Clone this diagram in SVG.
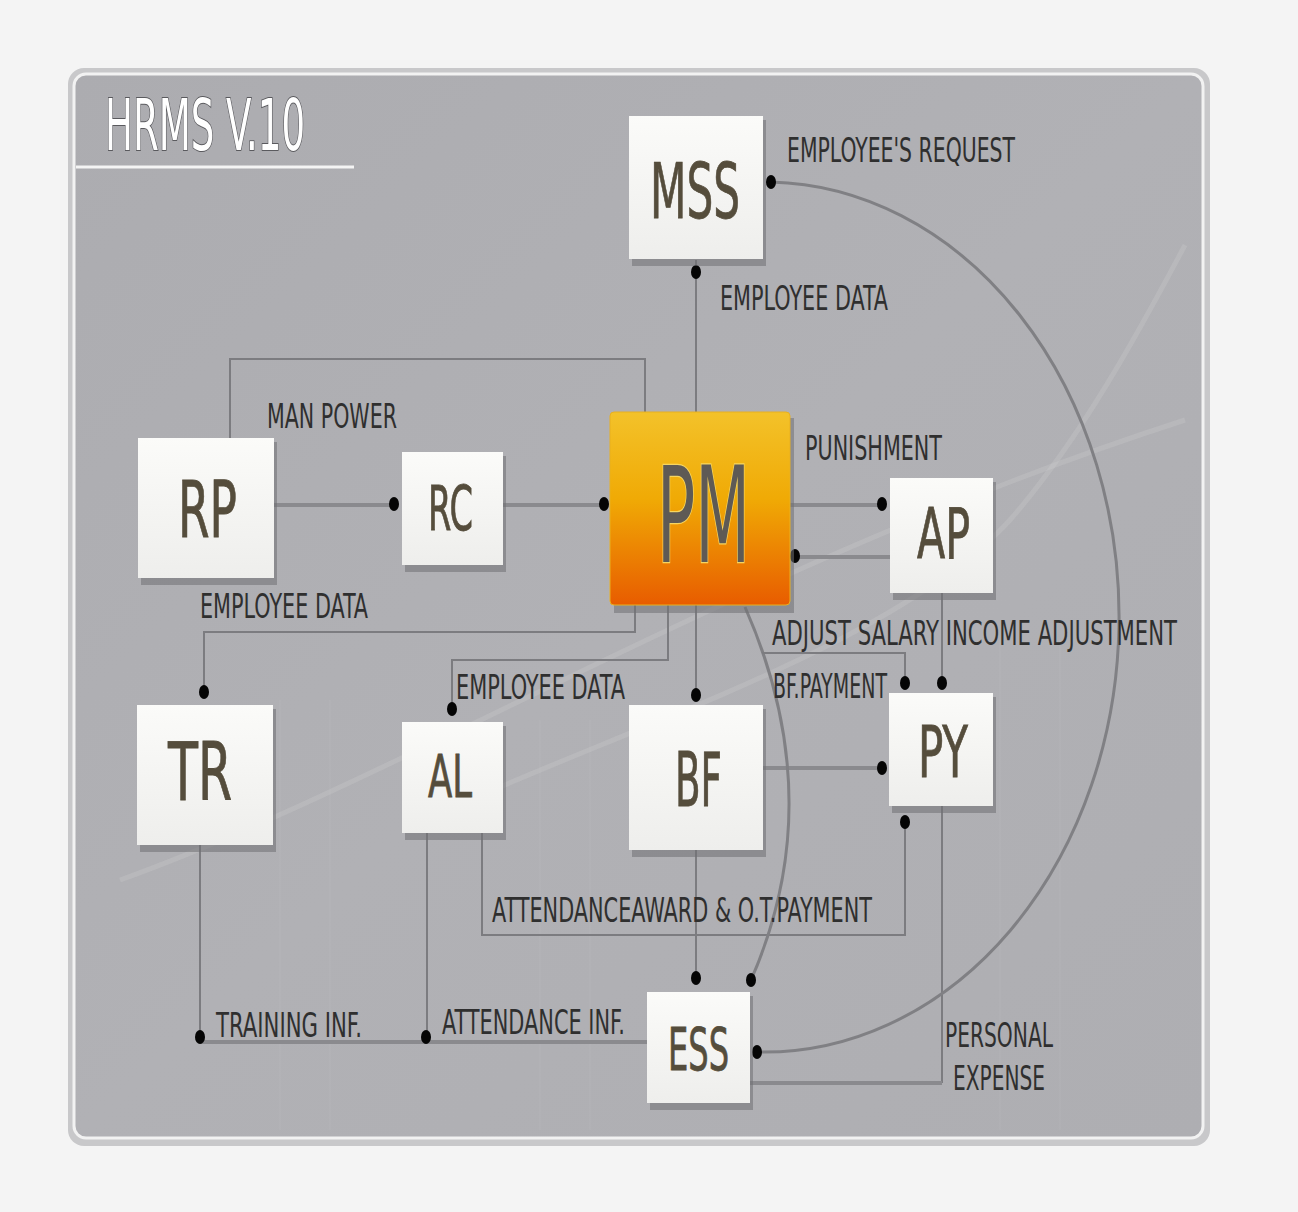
<svg xmlns="http://www.w3.org/2000/svg" width="1298" height="1212" viewBox="0 0 1298 1212">
<defs>
<style>
.node{fill:url(#boxg);}
.shadow{fill:#6f6f73;opacity:0.55;}
.nl{font-family:"DejaVu Sans Condensed","DejaVu Sans",sans-serif;fill:#554d3c;stroke:#554d3c;stroke-width:0.8;}
.lb{font-family:"DejaVu Sans Condensed","DejaVu Sans",sans-serif;fill:#2f2f2f;font-size:33px;}
.thick{fill:none;stroke:#8a8a8e;stroke-width:4;}
.thin{fill:none;stroke:#7c7c80;stroke-width:2;}
.arc{fill:none;stroke:#808084;stroke-width:3;}
.dot{fill:#050505;}
.deco{fill:none;stroke:#d4d4d8;stroke-width:5;opacity:0.22;}
.grid{stroke:#bcbcc0;stroke-width:1;opacity:0.4;}
</style>
<linearGradient id="boxg" x1="0" y1="0" x2="0" y2="1">
<stop offset="0" stop-color="#fbfbf9"/>
<stop offset="1" stop-color="#eeeeec"/>
</linearGradient>
<linearGradient id="pmg" x1="0" y1="0" x2="0" y2="1">
<stop offset="0" stop-color="#f3c22a"/>
<stop offset="0.45" stop-color="#f0aa05"/>
<stop offset="1" stop-color="#e85c00"/>
</linearGradient>
<linearGradient id="panelg" x1="0" y1="0" x2="1" y2="1">
<stop offset="0" stop-color="#acacb0"/>
<stop offset="0.5" stop-color="#b1b1b5"/>
<stop offset="1" stop-color="#aeaeb2"/>
</linearGradient>
</defs>
<rect x="0" y="0" width="1298" height="1212" fill="#f4f4f4"/>
<g id="panel">
<rect x="68" y="68" width="1142" height="1078" rx="16" fill="#c8c8ca"/>
<rect x="74" y="74" width="1129" height="1064" rx="12" fill="url(#panelg)" stroke="#f2f2f2" stroke-width="3"/>
<line class="grid" x1="280" y1="700" x2="280" y2="1130"/>
<line class="grid" x1="330" y1="700" x2="330" y2="1130"/>
<line class="grid" x1="540" y1="720" x2="540" y2="1130"/>
<line class="grid" x1="590" y1="720" x2="590" y2="1130"/>
<line class="grid" x1="1000" y1="640" x2="1000" y2="1130"/>
<line class="grid" x1="1060" y1="640" x2="1060" y2="1130"/>
<path class="deco" d="M470,800 C650,720 900,640 1010,520 C1080,440 1140,330 1185,245"/>
<path class="deco" d="M120,880 C400,780 750,560 1185,420"/>
<text x="105" y="150" font-family="DejaVu Sans Condensed, DejaVu Sans, sans-serif" font-size="71" fill="#ffffff" stroke="#5a5a5e" stroke-width="2" paint-order="stroke" textLength="200" lengthAdjust="spacingAndGlyphs">HRMS V.10</text>
<line x1="76" y1="167" x2="354" y2="167" stroke="#f4f4f4" stroke-width="3"/>
</g>
<g id="connectors">
<polyline class="thin" points="230,438 230,359 645,359 645,412"/>
<line class="thick" x1="274" y1="505" x2="394" y2="505"/>
<line class="thick" x1="503" y1="505" x2="604" y2="505"/>
<line class="thick" x1="790" y1="505" x2="882" y2="505"/>
<line class="thick" x1="795" y1="557" x2="890" y2="557"/>
<line class="thin" x1="696" y1="260" x2="696" y2="412"/>
<line class="thin" x1="696" y1="605" x2="696" y2="695"/>
<line class="thin" x1="696" y1="850" x2="696" y2="978"/>
<polyline class="thin" points="635,605 635,632 204,632 204,692"/>
<polyline class="thin" points="668,605 668,660 452,660 452,709"/>
<polyline class="thin" points="482,833 482,935 905,935 905,822"/>
<line class="thick" x1="763" y1="768" x2="882" y2="768"/>
<path class="arc" d="M745,607 Q830,800 751,980"/>
<polyline class="thin" points="762,653 905,653 905,683"/>
<line class="thin" x1="942" y1="593" x2="942" y2="683"/>
<line class="thin" x1="942" y1="806" x2="942" y2="1083"/>
<line class="thick" x1="750" y1="1083" x2="942" y2="1083"/>
<path class="arc" d="M771,182 A355 435 0 0 1 757,1052"/>
<line class="thin" x1="200" y1="845" x2="200" y2="1037"/>
<line class="thin" x1="427" y1="833" x2="427" y2="1037"/>
<line class="thick" x1="200" y1="1042" x2="647" y2="1042"/>
<ellipse class="dot" cx="771" cy="182" rx="5" ry="7"/>
<ellipse class="dot" cx="696" cy="272" rx="5" ry="7"/>
<ellipse class="dot" cx="394" cy="504" rx="5" ry="7"/>
<ellipse class="dot" cx="604" cy="504" rx="5" ry="7"/>
<ellipse class="dot" cx="882" cy="504" rx="5" ry="7"/>
<ellipse class="dot" cx="795" cy="556" rx="5" ry="7"/>
<ellipse class="dot" cx="204" cy="692" rx="5" ry="7"/>
<ellipse class="dot" cx="452" cy="709" rx="5" ry="7"/>
<ellipse class="dot" cx="696" cy="695" rx="5" ry="7"/>
<ellipse class="dot" cx="905" cy="683" rx="5" ry="7"/>
<ellipse class="dot" cx="942" cy="683" rx="5" ry="7"/>
<ellipse class="dot" cx="882" cy="768" rx="5" ry="7"/>
<ellipse class="dot" cx="905" cy="822" rx="5" ry="7"/>
<ellipse class="dot" cx="696" cy="978" rx="5" ry="7"/>
<ellipse class="dot" cx="751" cy="980" rx="5" ry="7"/>
<ellipse class="dot" cx="757" cy="1052" rx="5" ry="7"/>
<ellipse class="dot" cx="200" cy="1037" rx="5" ry="7"/>
<ellipse class="dot" cx="426" cy="1037" rx="5" ry="7"/>
</g>
<g id="labels">
<text class="lb" x="787" y="162" textLength="228" lengthAdjust="spacingAndGlyphs">EMPLOYEE'S REQUEST</text>
<text class="lb" x="720" y="310" textLength="168" lengthAdjust="spacingAndGlyphs">EMPLOYEE DATA</text>
<text class="lb" x="267" y="428" textLength="130" lengthAdjust="spacingAndGlyphs">MAN POWER</text>
<text class="lb" x="200" y="618" textLength="168" lengthAdjust="spacingAndGlyphs">EMPLOYEE DATA</text>
<text class="lb" x="456" y="699" textLength="169" lengthAdjust="spacingAndGlyphs">EMPLOYEE DATA</text>
<text class="lb" x="805" y="460" textLength="137" lengthAdjust="spacingAndGlyphs">PUNISHMENT</text>
<text class="lb" x="772" y="645" textLength="405" lengthAdjust="spacingAndGlyphs">ADJUST SALARY INCOME ADJUSTMENT</text>
<text class="lb" x="773" y="698" textLength="114" lengthAdjust="spacingAndGlyphs">BF.PAYMENT</text>
<text class="lb" x="492" y="922" textLength="380" lengthAdjust="spacingAndGlyphs">ATTENDANCEAWARD &amp; O.T.PAYMENT</text>
<text class="lb" x="216" y="1037" textLength="146" lengthAdjust="spacingAndGlyphs">TRAINING INF.</text>
<text class="lb" x="442" y="1034" textLength="183" lengthAdjust="spacingAndGlyphs">ATTENDANCE INF.</text>
<text class="lb" x="945" y="1047" textLength="108" lengthAdjust="spacingAndGlyphs">PERSONAL</text>
<text class="lb" x="953" y="1090" textLength="92" lengthAdjust="spacingAndGlyphs">EXPENSE</text>
</g>
<g id="MSS">
<rect class="shadow" x="632" y="120" width="134" height="146"/>
<rect class="node" x="629" y="116" width="134" height="143"/>
<text class="nl" x="650" y="218" font-size="77" textLength="90" lengthAdjust="spacingAndGlyphs">MSS</text>
</g>
<g id="RP">
<rect class="shadow" x="141" y="442" width="136" height="143"/>
<rect class="node" x="138" y="438" width="136" height="140"/>
<text class="nl" x="178" y="537" font-size="78" textLength="59" lengthAdjust="spacingAndGlyphs">RP</text>
</g>
<g id="RC">
<rect class="shadow" x="405" y="456" width="101" height="116"/>
<rect class="node" x="402" y="452" width="101" height="113"/>
<text class="nl" x="428" y="530" font-size="62" textLength="45" lengthAdjust="spacingAndGlyphs">RC</text>
</g>
<g id="PM">
<rect class="shadow" x="614" y="418" width="180" height="195"/>
<rect x="610" y="412" width="180" height="193" rx="4" fill="url(#pmg)" stroke="#e8b020" stroke-width="1"/>
<text x="657" y="562" font-family="DejaVu Sans Condensed, DejaVu Sans, sans-serif" font-size="133" fill="#5e5a55" stroke="#f6d560" stroke-width="2.5" paint-order="stroke" textLength="93" lengthAdjust="spacingAndGlyphs">PM</text>
</g>
<g id="AP">
<rect class="shadow" x="893" y="482" width="103" height="118"/>
<rect class="node" x="890" y="478" width="103" height="115"/>
<text class="nl" x="917" y="558" font-size="70" textLength="53" lengthAdjust="spacingAndGlyphs">AP</text>
</g>
<g id="TR">
<rect class="shadow" x="140" y="709" width="136" height="143"/>
<rect class="node" x="137" y="705" width="136" height="140"/>
<text class="nl" x="168" y="800" font-size="80" textLength="64" lengthAdjust="spacingAndGlyphs">TR</text>
</g>
<g id="AL">
<rect class="shadow" x="405" y="726" width="101" height="114"/>
<rect class="node" x="402" y="722" width="101" height="111"/>
<text class="nl" x="428" y="797" font-size="58" textLength="44" lengthAdjust="spacingAndGlyphs">AL</text>
</g>
<g id="BF">
<rect class="shadow" x="632" y="709" width="134" height="148"/>
<rect class="node" x="629" y="705" width="134" height="145"/>
<text class="nl" x="675" y="806" font-size="74" textLength="47" lengthAdjust="spacingAndGlyphs">BF</text>
</g>
<g id="PY">
<rect class="shadow" x="892" y="697" width="104" height="116"/>
<rect class="node" x="889" y="693" width="104" height="113"/>
<text class="nl" x="918" y="777" font-size="71" textLength="50" lengthAdjust="spacingAndGlyphs">PY</text>
</g>
<g id="ESS">
<rect class="shadow" x="650" y="996" width="103" height="114"/>
<rect class="node" x="647" y="992" width="103" height="111"/>
<text class="nl" x="668" y="1070" font-size="59" textLength="61" lengthAdjust="spacingAndGlyphs">ESS</text>
</g>
</svg>
